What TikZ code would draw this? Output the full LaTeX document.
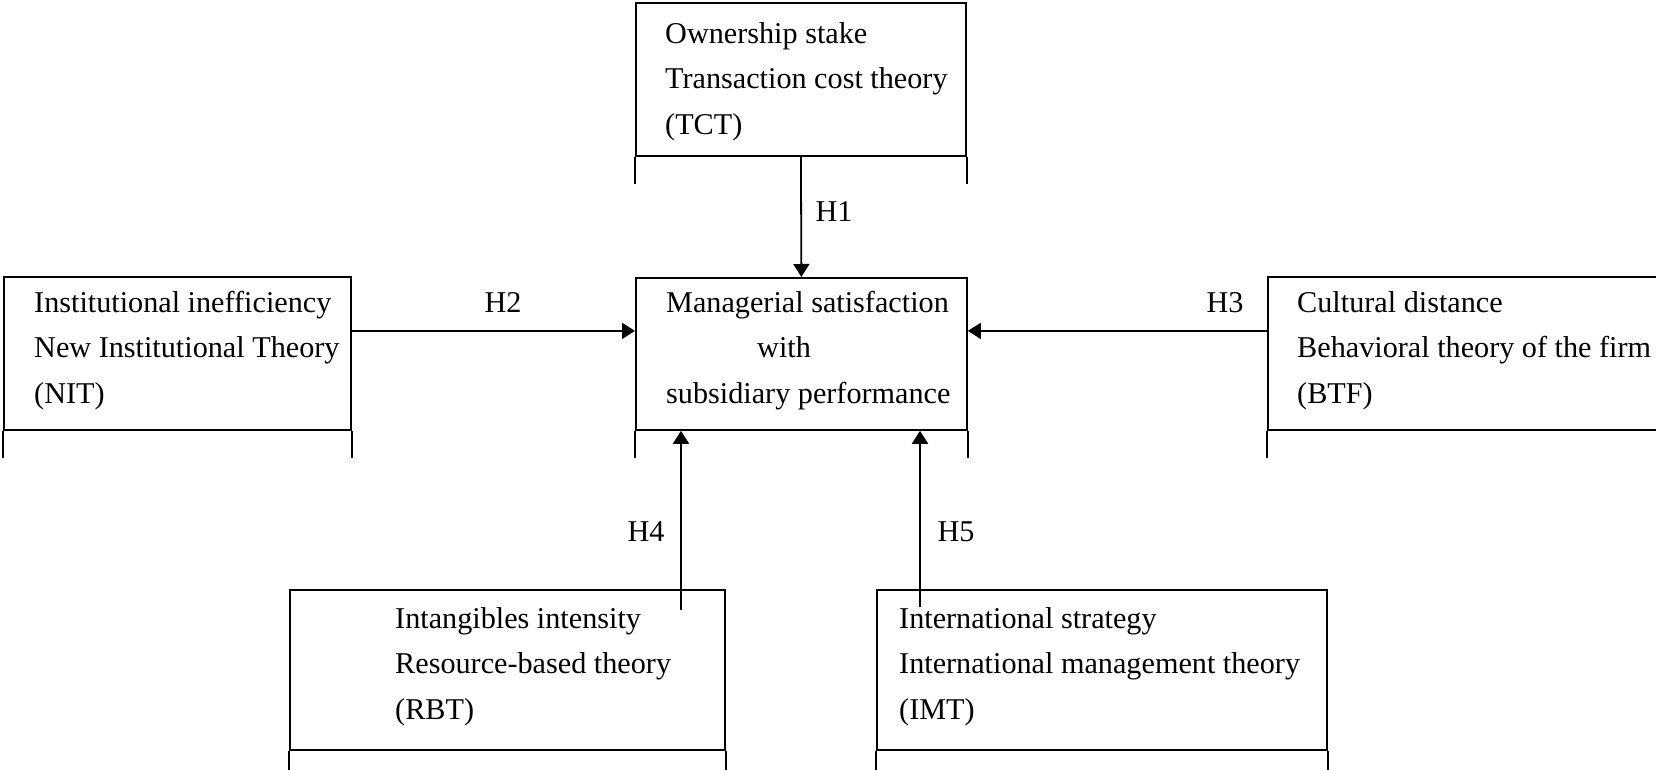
\documentclass[tikz,border=0pt]{standalone}
\usepackage{fontspec}
\setmainfont{Liberation Serif}
\usetikzlibrary{arrows.meta}
\begin{document}
\begin{tikzpicture}[x=1pt,y=-1pt,
  every node/.style={font=\fontsize{30.2}{45.5}\selectfont},
  box/.style={draw, line width=1.8pt, inner sep=0pt, anchor=north west},
  txt/.style={inner sep=0pt, anchor=north west, align=left},
  leg/.style={line width=1.8pt},
  arr/.style={line width=1.8pt, -{Triangle[length=13pt,width=16pt]}},
  lab/.style={inner sep=0pt, anchor=base}]
\useasboundingbox (0,0) rectangle (1656,770);
\clip (0,0) rectangle (1656,770);
% boxes
\node[box, minimum width=330pt, minimum height=153pt] (tct) at (635,2) {};
\node[box, minimum width=331pt, minimum height=152pt] (main) at (635,277) {};
\node[box, minimum width=347pt, minimum height=153pt] (nit) at (3,276) {};
\node[box, minimum width=450pt, minimum height=153pt] (btf) at (1267,276) {};
\node[box, minimum width=435pt, minimum height=160pt] (rbt) at (289,589) {};
\node[box, minimum width=450pt, minimum height=160pt] (imt) at (876,589) {};
% legs
\foreach \b/\l in {tct/27, main/27, nit/27, btf/27, rbt/30, imt/30}{
  \draw[leg] (\b.south west) -- ++(0,\l);
  \draw[leg] (\b.south east) -- ++(0,\l);
}
% texts
\node[txt] (ttct) at (665,22) {Ownership stake\\Transaction cost theory\\(TCT)};
\node[txt] (tmain) at (666,291) {Managerial satisfaction\\\hspace*{91pt}with\\subsidiary performance};
\node[txt] (tnit) at (34,291) {Institutional inefficiency\\New Institutional Theory\\(NIT)};
\node[txt] (tbtf) at (1297,291) {Cultural distance\\Behavioral theory of the firm\\(BTF)};
\node[txt] (trbt) at (395,607) {Intangibles intensity\\Resource-based theory\\(RBT)};
\node[txt] (timt) at (899,607) {International strategy\\International management theory\\(IMT)};
% connectors
\coordinate (h4s) at (681,610);
\coordinate (h5s) at (920,607);
\draw[arr] (tct.south) -- (main.north);
\draw[arr] ([yshift=22.5pt]nit.east) -- ([yshift=22.5pt]nit.east -| main.west);
\draw[arr] ([yshift=22.5pt]btf.west) -- ([yshift=22.5pt]btf.west -| main.east);
\draw[arr] (h4s) -- (h4s |- main.south);
\draw[arr] (h5s) -- (h5s |- main.south);
% labels
\node[lab] (l1) at (834,222) {H1};
\node[lab] (l2) at (503,312) {H2};
\node[lab] (l3) at (1225,312) {H3};
\node[lab] (l4) at (646,541) {H4};
\node[lab] (l5) at (956,541) {H5};
\end{tikzpicture}
\end{document}
